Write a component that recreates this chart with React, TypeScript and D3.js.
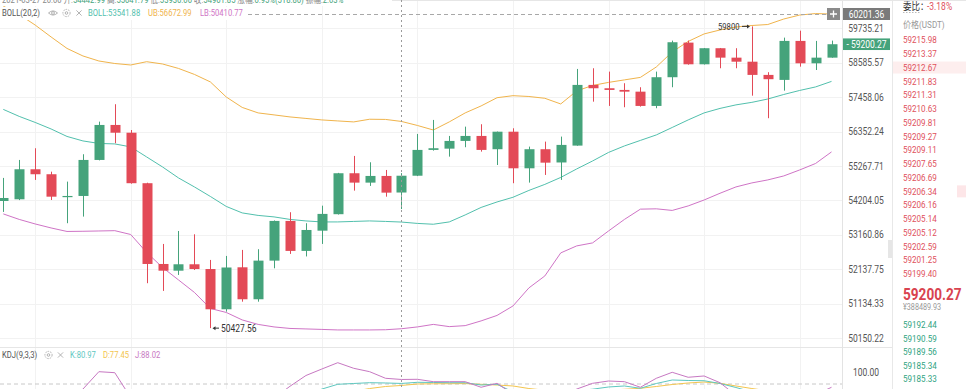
import React from "react";
import * as d3 from "d3";

// 4h candles (USDT)
const opens = [54183, 54235, 55163, 55008, 54315, 54337, 55454, 56561, 56314, 54730, 52289, 52091, 52280, 52140, 50968, 52191, 51257, 52388, 53576, 52676, 53282, 53780, 55039, 54748, 54955, 54442.99, 54962, 55769, 55809, 56053, 56211, 55791, 56346, 55193, 55791, 55375, 55905, 57855, 57746, 57691, 57635, 57172, 58107, 59254, 58533, 59067, 58753, 58619, 58183, 58019, 59311, 58566, 58753];
const highs = [54894, 55454, 55822, 55088, 54779, 55633, 56667, 57227, 56400, 54745, 52884, 53273, 53173, 52408, 52527, 52706, 52727, 53590, 53840, 53507, 54040, 55050, 55580, 55381, 55141, 55041.79, 56274, 56722, 56211, 56507, 56584, 56350, 56455, 55873, 56031, 56190, 58379, 58402, 58291, 57910, 57779, 58291, 59321, 59321, 59075, 59075, 59067, 59800, 58272, 59421, 59655, 59311, 59321];
const lows = [53849, 54210, 54832, 54213, 53507, 53707, 55440, 55980, 54715, 51724, 51499, 51966, 52111, 50427.56, 50900, 51187, 51187, 52161, 52587, 52512, 52884, 53770, 54501, 54646, 54315, 53936, 54950, 55747, 55558, 55854, 55715, 55296, 54730, 54748, 54986, 54832, 55900, 57310, 57172, 57130, 57150, 57098, 57779, 58520, 58525, 58402, 58402, 57504, 56777, 57668, 58455, 58344, 58750];
const closes = [54275, 55163, 55008, 54315, 54337, 55454, 56561, 56314, 54730, 52289, 52091, 52280, 52140, 50968, 52185, 51257, 52388, 53576, 52676, 53303, 53789, 55039, 54748, 54955, 54439, 54961.85, 55769, 55822, 56053, 56211, 55769, 56346, 55193, 55791, 55369, 55927, 57855, 57746, 57691, 57635, 57172, 58107, 59267, 58533, 59067, 58753, 58619, 58183, 58042, 59311, 58566, 58753, 59200.27];

// BOLL(20,2)
const bollUp = [60488, 60201, 59846, 59444, 59060, 58809, 58642, 58559, 58510, 58619, 58543, 58396, 58199, 57953, 57461, 57124, 56947, 56883, 56818, 56770, 56722, 56690, 56658, 56744, 56738, 56672.99, 56545, 56400, 56658, 56947, 57172, 57438, 57504, 57478, 57420, 57236, 57658, 57838, 57937, 58019, 58101, 58444, 58943, 59294, 59545, 59679, 59779, 59830, 59863, 60049, 60184, 60235, 60218];
const bollMid = [57060, 56835, 56642, 56433, 56195, 56053, 55974, 55958, 55864, 55548, 55234, 54894, 54615, 54322, 54016, 53819, 53743, 53698, 53622, 53576, 53546, 53546, 53561, 53576, 53561, 53541.88, 53501, 53476, 53546, 53758, 53986, 54153, 54297, 54507, 54693, 54909, 55172, 55422, 55690, 55895, 56069, 56243, 56481, 56722, 56947, 57092, 57206, 57288, 57396, 57543, 57674, 57789, 57970];
const bollLow = [53789, 53622, 53485, 53364, 53258, 53264, 53273, 53282, 53167, 52631, 52185, 51820, 51455, 50991, 50876, 50662, 50534, 50462, 50419, 50405, 50391, 50376, 50376, 50376, 50382, 50410.77, 50462, 50534, 50471, 50499, 50634, 50791, 51063, 51586, 51936, 52617, 52825, 52915, 53273, 53622, 53934, 53944, 53895, 54032, 54213, 54420, 54615, 54739, 54832, 54955, 55141, 55343, 55706];

// KDJ(9,3,3)
const kdjK = [56, 60, 63, 58, 55, 60, 66, 68, 60, 42, 28, 22, 18, 12, 14, 15, 22, 35, 48, 60, 71, 79.5, 80.9, 82.3, 81.8, 80.97, 83, 82.7, 82.3, 82.3, 78.2, 79.5, 66, 60, 58, 62, 68, 70.8, 74.7, 76.5, 72.4, 80.9, 87.1, 86.2, 85.8, 80.9, 73.8, 66, 58, 62, 60, 63, 66];
const kdjD = [50, 53, 56, 57, 56, 57, 60, 63, 62, 55, 46, 38, 31, 25, 21, 19, 20, 25, 33, 42, 52, 61, 67, 72, 75.6, 77.45, 80, 80.4, 80.5, 80.7, 79.5, 78.2, 76.5, 72, 69, 66, 66, 67, 69, 70.6, 72.4, 75.6, 79.1, 81.8, 83.5, 81.2, 76.5, 72, 68, 66, 65, 64, 66];
const kdjJ = [64, 66, 68, 55, 50, 71, 101.8, 100, 56, 16, 0, -8, -8, -14, 0, 7, 26, 55, 76, 95, 106.5, 117.7, 107.8, 101.8, 90.1, 88.02, 88.3, 84.1, 84.1, 84.1, 74.2, 81.2, 62, 42, 40, 54, 71, 81.2, 85.3, 84.1, 74.2, 90.1, 100.7, 91.9, 94.2, 82.3, 60, 54, 38, 54, 50, 61, 74.2];

const priceTicks = [59735.21, 58585.57, 57458.06, 56352.24, 55267.71, 54204.05, 53160.86, 52137.75, 51134.33, 50150.22];
const gridCandles = [2, 8, 14, 20, 26, 32, 38, 44, 50];
const askPrices = ["59215.98", "59213.37", "59212.67", "59211.83", "59211.31", "59210.63", "59209.81", "59209.27", "59209.11", "59207.65", "59206.69", "59206.34", "59206.16", "59205.14", "59205.12", "59202.59", "59201.25", "59199.40"];
const bidPrices = ["59192.44", "59190.59", "59189.56", "59185.34", "59185.33"];

const W = 966;
const H = 389;
const CHART_R = 842;
const UP = "#45a37b";
const DOWN = "#e34a57";
const C_UB = "#f0b44c";
const C_MID = "#52c0ad";
const C_LB = "#cf74c6";
const C_K = "#5ec7bf";
const C_D = "#f3c54e";
const C_J = "#c778c2";
const ASK = "#e0505c";
const BID = "#2fa37f";
const FONT = "Roboto, 'Noto Sans CJK SC', sans-serif";

// the screenshot text is squeezed horizontally
function T({ x, y, size = 10, fill = "#555", anchor = "start", weight = 400, children }: any) {
  return (
    <text
      transform={`translate(${x},${y}) scale(0.85,1)`}
      fontSize={size}
      fill={fill}
      textAnchor={anchor}
      fontWeight={weight}
      fontFamily={FONT}
      dominantBaseline="central"
    >
      {children}
    </text>
  );
}

function Gear({ cx, cy }: { cx: number; cy: number }) {
  return (
    <g fill="none" stroke="#aaa" strokeWidth={0.9}>
      <circle cx={cx} cy={cy} r={3.6} strokeDasharray="1.6,1" />
      <circle cx={cx} cy={cy} r={1.3} />
    </g>
  );
}

function Cross({ cx, cy }: { cx: number; cy: number }) {
  return (
    <g stroke="#aaa" strokeWidth={0.9}>
      <line x1={cx - 2.6} y1={cy - 2.6} x2={cx + 2.6} y2={cy + 2.6} />
      <line x1={cx + 2.6} y1={cy - 2.6} x2={cx - 2.6} y2={cy + 2.6} />
    </g>
  );
}

export default function App() {
  const x = d3.scaleLinear().domain([0, opens.length - 1]).range([3.3, 831.5]);
  const y = d3.scaleLog().domain([50150.22, 59735.21]).range([337.9, 28.3]);
  const yK = d3.scaleLinear().domain([80, 100]).range([384, 372.7]);

  const priceLine = d3
    .line<number>()
    .x((_, i) => x(i))
    .y((v) => y(v));
  const kdjLine = d3
    .line<number>()
    .x((_, i) => x(i))
    .y((v) => yK(v));

  const crossIdx = 25;
  const crossX = Math.round(x(crossIdx)) + 0.5;
  const rowY = (i: number) => 40 + i * 13.76;

  return (
    <svg
      width={W}
      height={H}
      style={{ position: "absolute", left: 0, top: 0, background: "#fff" }}
    >
      <defs>
        <clipPath id="main">
          <rect x={0} y={0} width={CHART_R} height={347} />
        </clipPath>
        <clipPath id="sub">
          <rect x={0} y={348} width={CHART_R} height={H - 348} />
        </clipPath>
      </defs>

      {/* grid */}
      <g stroke="#f2f2f2" strokeWidth={1}>
        {gridCandles.map((i) => (
          <line key={"gx" + i} x1={Math.round(x(i)) + 0.5} x2={Math.round(x(i)) + 0.5} y1={0} y2={H} />
        ))}
        {priceTicks.map((p) => (
          <line key={"gy" + p} x1={0} x2={CHART_R} y1={Math.round(y(p)) + 0.5} y2={Math.round(y(p)) + 0.5} />
        ))}
      </g>

      {/* panel borders */}
      <line x1={0} x2={892} y1={347.5} y2={347.5} stroke="#e6e6e6" />
      <line x1={CHART_R + 0.5} x2={CHART_R + 0.5} y1={0} y2={H} stroke="#e3e3e3" />
      <line x1={892.5} x2={892.5} y1={0} y2={H} stroke="#e8e8e8" />
      <line x1={0} x2={W} y1={0.5} y2={0.5} stroke="#e6e6e6" />

      {/* KDJ 80 level */}
      <line x1={0} x2={CHART_R} y1={yK(80)} y2={yK(80)} stroke="#c8c8c8" strokeDasharray="4,3" />

      {/* bollinger */}
      <g clipPath="url(#main)" fill="none" strokeWidth={1}>
        <path d={priceLine(bollUp) || ""} stroke={C_UB} />
        <path d={priceLine(bollMid) || ""} stroke={C_MID} />
        <path d={priceLine(bollLow) || ""} stroke={C_LB} />
      </g>

      {/* candles */}
      <g clipPath="url(#main)">
        {opens.map((o, i) => {
          const c = closes[i];
          const col = c >= o ? UP : DOWN;
          const cx = Math.round(x(i)) + 0.5;
          const top = y(Math.max(o, c));
          const bot = y(Math.min(o, c));
          return (
            <g key={i}>
              <line x1={cx} x2={cx} y1={y(highs[i])} y2={y(lows[i])} stroke={col} strokeWidth={1} />
              <rect x={cx - 5} y={top} width={10} height={Math.max(1.2, bot - top)} fill={col} />
            </g>
          );
        })}
      </g>

      {/* high / low marks */}
      <T x={718} y={y(59800)} size={9} fill="#333">59800</T>
      <line x1={742} x2={748} y1={y(59800)} y2={y(59800)} stroke="#333" />
      <path d={`M750,${y(59800)} l-3,-2 v4 z`} fill="#333" />
      <path d={`M212.5,${y(50427.56)} l3,-2 v4 z`} fill="#333" />
      <line x1={215} x2={219} y1={y(50427.56)} y2={y(50427.56)} stroke="#333" />
      <T x={221} y={y(50427.56)} size={10} fill="#333">50427.56</T>

      {/* KDJ */}
      <g clipPath="url(#sub)" fill="none" strokeWidth={1}>
        <path d={kdjLine(kdjD) || ""} stroke={C_D} />
        <path d={kdjLine(kdjK) || ""} stroke={C_K} />
        <path d={kdjLine(kdjJ) || ""} stroke={C_J} />
      </g>

      {/* crosshair */}
      <line x1={crossX} x2={crossX} y1={0} y2={H} stroke="#9a9a9a" strokeDasharray="2,3" />
      <line x1={248} x2={CHART_R} y1={14.5} y2={14.5} stroke="#a8a8a8" strokeDasharray="4,3" />

      {/* header rows */}
      <rect x={0} y={0} width={392} height={6} fill="#fff" />
      <text
        transform="translate(2,-0.5) scale(0.85,1)"
        fontSize={9}
        fontFamily={FONT}
        dominantBaseline="central"
        fill="#888"
      >
        2021-03-27 20:00  开:<tspan fill={UP}>54442.99</tspan>  高:<tspan fill={UP}>55041.79</tspan>  低:
        <tspan fill={UP}>53936.00</tspan>  收:<tspan fill={UP}>54961.85</tspan>  涨幅:
        <tspan fill={UP}>0.95%(518.86)</tspan>  振幅:<tspan fill={UP}>2.03%</tspan>
      </text>

      <rect x={0} y={7} width={248} height={13} fill="#fff" />
      <T x={2} y={13} size={9} fill="#555">BOLL(20,2)</T>
      <g fill="none" stroke="#aaa" strokeWidth={0.9}>
        <path d="M48.5,13 Q53,8.8 57.5,13 Q53,17.2 48.5,13 Z" />
        <circle cx={53} cy={13} r={1.4} />
      </g>
      <Gear cx={66.5} cy={13} />
      <Cross cx={79} cy={13} />
      <T x={88} y={13} size={9} fill={C_MID}>BOLL:53541.88</T>
      <T x={148} y={13} size={9} fill={C_UB}>UB:56672.99</T>
      <T x={200} y={13} size={9} fill={C_LB}>LB:50410.77</T>

      <T x={2} y={355} size={9} fill="#555">KDJ(9,3,3)</T>
      <Gear cx={48.5} cy={355} />
      <Cross cx={60.5} cy={355} />
      <T x={70} y={355} size={9} fill={C_K}>K:80.97</T>
      <T x={103} y={355} size={9} fill={C_D}>D:77.45</T>
      <T x={135} y={355} size={9} fill={C_J}>J:88.02</T>

      {/* price axis */}
      {priceTicks.map((p) => (
        <T key={"t" + p} x={866} y={y(p)} anchor="middle" fill="#555">
          {d3.format(".2f")(p)}
        </T>
      ))}
      <T x={866} y={yK(100)} anchor="middle" fill="#555">100.00</T>

      <rect x={827} y={8} width={13} height={12} fill="#8a8a8a" />
      <path d="M833.5,10.5 v7 M830,14 h7" stroke="#fff" strokeWidth={1.3} />
      <rect x={843} y={8} width={47} height={12} fill="#7a7a7a" />
      <T x={866.5} y={14.3} anchor="middle" fill="#fff">60201.36</T>

      <rect x={843} y={y(59200.27) - 5.8} width={47} height={11.6} fill={UP} />
      <T x={866.5} y={y(59200.27)} anchor="middle" fill="#fff">- 59200.27</T>

      {/* order book */}
      <rect x={888} y={240} width={4} height={18} fill="#e6e6e6" />
      <T x={903} y={6} size={10} fill="#333">委比：</T>
      <T x={927} y={6} size={10} fill={ASK}>-3.18%</T>
      <line x1={903} x2={920} y1={12.5} y2={12.5} stroke="#bbb" strokeDasharray="1.5,1.5" />
      <T x={903} y={24.3} size={9.5} fill="#999">价格(USDT)</T>

      <rect x={893} y={rowY(2) - 6} width={73} height={12} fill="#fdeeee" />
      <rect x={957} y={rowY(11) - 6} width={9} height={12} fill="#fde6e8" />
      {askPrices.map((p, i) => (
        <T key={"a" + p} x={903} y={rowY(i)} size={9.5} fill={ASK}>
          {p}
        </T>
      ))}

      <T x={903} y={294.3} size={16} weight={700} fill="#d9434f">59200.27</T>
      <T x={903} y={307.7} size={8.5} fill="#999">¥388489.93</T>

      {bidPrices.map((p, i) => (
        <T key={"b" + p} x={903} y={324.7 + i * 13.6} size={9.5} fill={BID}>
          {p}
        </T>
      ))}
    </svg>
  );
}
